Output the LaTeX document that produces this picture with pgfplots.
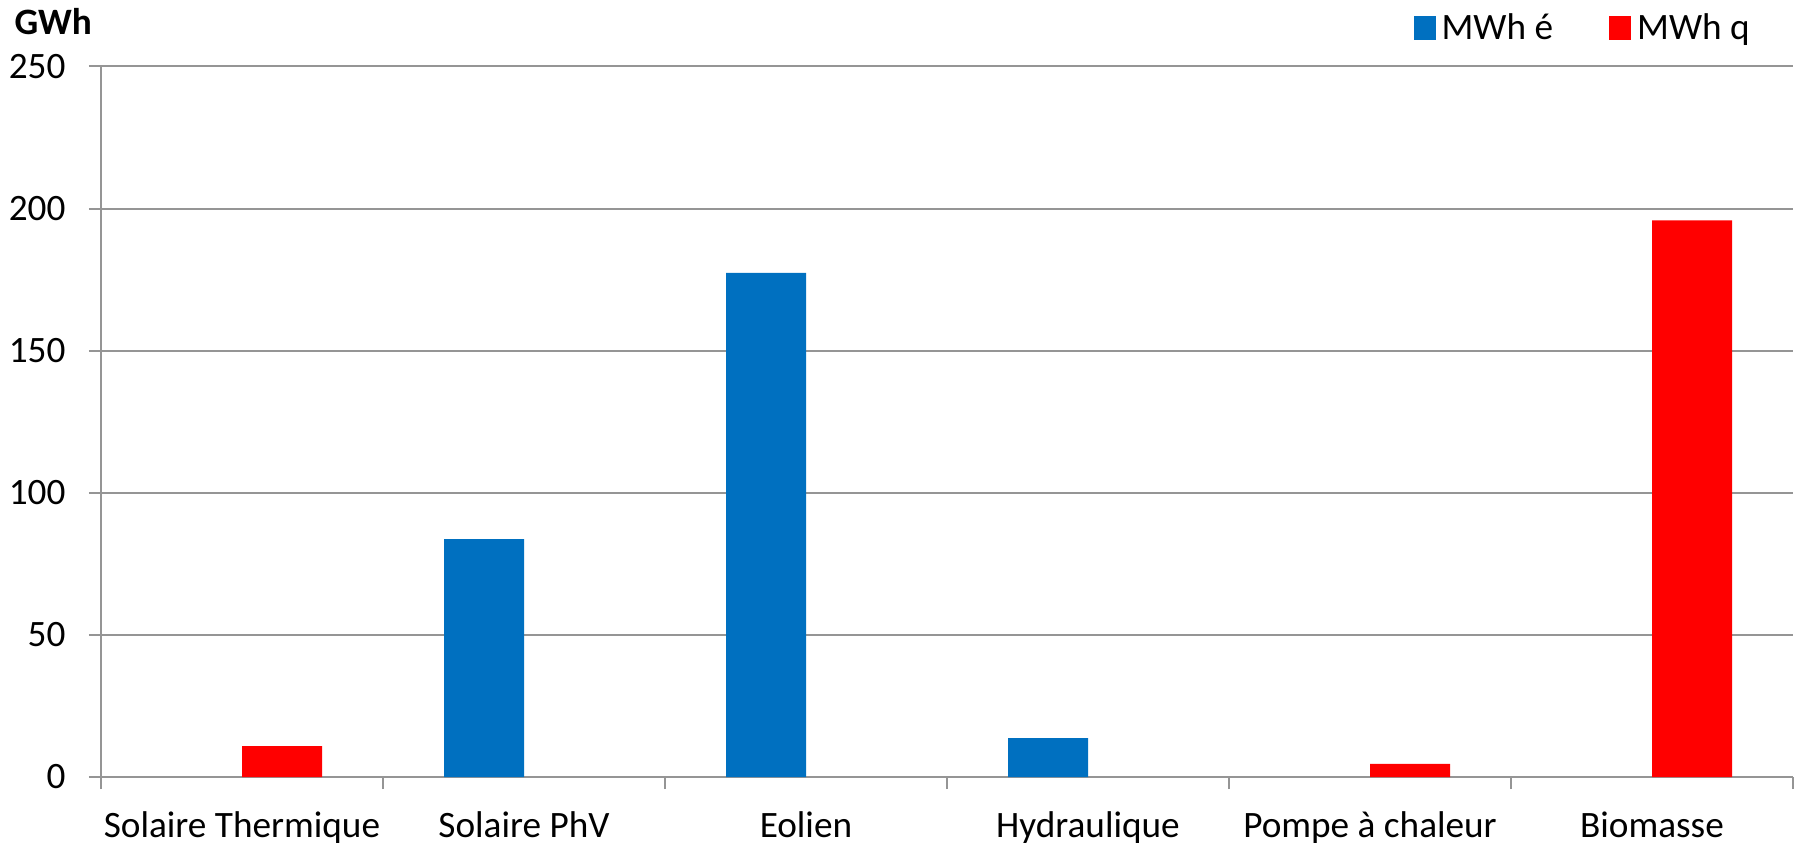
\documentclass[border=0pt]{standalone}
\usepackage{pgfplots}
\pgfplotsset{compat=1.18}
\usepackage{fontspec}
\setmainfont{Carlito}
\definecolor{barblue}{HTML}{0070C0}
\definecolor{barred}{HTML}{FF0000}
\definecolor{gridgray}{HTML}{959595}
\newcommand{\lblfont}{\fontsize{14.9}{17.5}\selectfont}
\begin{document}
\begin{tikzpicture}
\path[use as bounding box] (-40.4pt,-26.4pt) rectangle (679.6pt,310.8pt);
\begin{axis}[
  at={(0pt,0pt)}, anchor=south west,
  scale only axis, width=676.8pt, height=284.2pt,
  ybar=0pt, bar width=32pt,
  xmin=-0.5, xmax=5.5, ymin=0, ymax=250,
  xtick={0,...,5},
  xticklabels={Solaire Thermique, Solaire PhV, Eolien, Hydraulique, Pompe à chaleur, Biomasse},
  ytick={0,50,...,250},
  ymajorgrids, grid style={gridgray, line width=0.8pt},
  axis lines*=left,
  axis line style={gridgray, line width=0.8pt},
  tick align=outside, major tick length=4.8pt,
  tick style={gridgray, line width=0.8pt},
  major x tick style={draw=none},
  extra x ticks={-0.5,0.5,1.5,2.5,3.5,4.5,5.5},
  extra x tick labels={},
  extra x tick style={grid=none, major x tick style={draw=gridgray, line width=0.8pt}},
  /pgf/number format/assume math mode=true,
  tick label style={font=\lblfont, text=black},
  xticklabel style={anchor=base, inner sep=0pt, yshift=-19.4pt},
  yticklabel style={anchor=east, inner sep=0pt, xshift=-9.2pt},
  legend style={draw=none, fill=none, inner sep=0pt, font=\lblfont,
    at={(0.7755,1.054)}, anchor=west, legend columns=2,
    /tikz/every even column/.append style={column sep=20pt},
    nodes={inner xsep=2.4pt}},
  legend image code/.code={\fill[#1] (0pt,-4.8pt) rectangle (8.8pt,4.8pt);},
  clip=false,
]
\addplot[fill=barblue, draw=none] coordinates {(1,83.7) (2,177.4) (3,13.7)};
\addlegendentry{MWh é}
\addplot[fill=barred, draw=none] coordinates {(0,10.9) (4,4.6) (5,195.9)};
\addlegendentry{MWh q}
\node[anchor=base west, inner sep=0pt, font=\lblfont\bfseries] at (axis description cs:-0.0514,1.0457) {GWh};
\end{axis}
\end{tikzpicture}
\end{document}
